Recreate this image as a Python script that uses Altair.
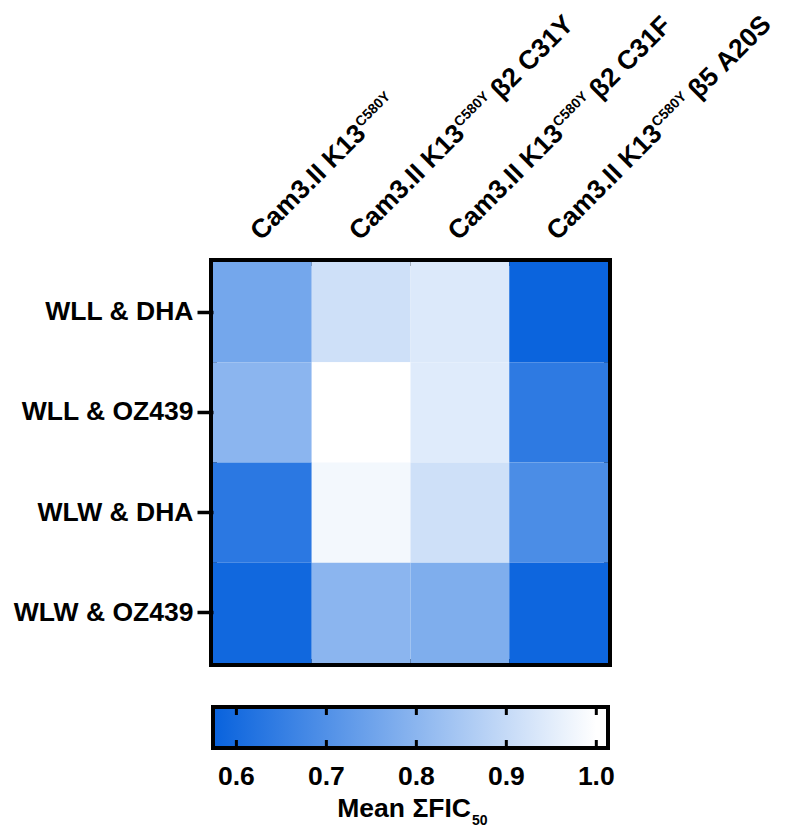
import altair as alt
import pandas as pd

FONT = "Liberation Sans"
FS = 26.5
SUP = 14
DARK = "#0862dd"

rows = ["WLL & DHA", "WLL & OZ439", "WLW & DHA", "WLW & OZ439"]
col_keys = ["K13", "K13 b2 C31Y", "K13 b2 C31F", "K13 b5 A20S"]
label_prefix = ["Cam3.II K13", "Cam3.II K13", "Cam3.II K13", "Cam3.II K13"]
label_sup = ["C580Y", "C580Y", "C580Y", "C580Y"]
label_suffix = ["", "β2 C31Y", "β2 C31F", "β5 A20S"]
values = [
    [0.76, 0.915, 0.94, 0.58],
    [0.80, 1.00, 0.945, 0.64],
    [0.635, 0.98, 0.915, 0.69],
    [0.59, 0.80, 0.78, 0.585],
]
bar_ticks = [0.6, 0.7, 0.8, 0.9, 1.0]
bar_tick_labels = ["0.6", "0.7", "0.8", "0.9", "1.0"]
bar_domain = [0.574, 1.013]
color_domain = [0.574, 1.0]
legend_title = "Mean ΣFIC"
legend_sub = "50"

PW, PH = 395, 401           # heatmap plot area
BAR_Y, BAR_H = 445, 41      # colour bar, relative to plot top

# Arial/Liberation Sans Bold advance widths (per em)
W = {" ": 0.278, ".": 0.278, "C": 0.722, "a": 0.556, "m": 0.889, "I": 0.278,
     "K": 0.722, "Y": 0.667}
for d in "0123456789":
    W[d] = 0.556


def width(s, size):
    return sum(W.get(ch, 0.6) for ch in s) * size


w1 = width(label_prefix[0], FS)
w2 = width(label_sup[0], SUP)

cells = pd.DataFrame([
    {"row": r, "col": c, "v": values[i][j]}
    for i, r in enumerate(rows) for j, c in enumerate(col_keys)
])
labels = pd.DataFrame({"col": col_keys, "prefix": label_prefix,
                       "sup": label_sup, "suffix": label_suffix})

# ---------------- heatmap ----------------
xenc = alt.X("col:N", sort=col_keys,
             scale=alt.Scale(paddingInner=0, paddingOuter=0),
             axis=alt.Axis(orient="top", labels=False, ticks=True, tickSize=13,
                           tickWidth=3, tickColor="black", domain=False,
                           title=None, grid=False))
heat = alt.Chart(cells).mark_rect().encode(
    x=xenc,
    y=alt.Y("row:N", sort=rows,
            scale=alt.Scale(paddingInner=0, paddingOuter=0),
            axis=alt.Axis(labelFont=FONT, labelFontSize=FS, labelFontWeight="bold",
                          labelColor="black", labelPadding=4, tickSize=16,
                          tickWidth=3.5, tickColor="black", domain=False,
                          title=None, grid=False)),
    color=alt.Color("v:Q", legend=None,
                    scale=alt.Scale(domain=color_domain, range=[DARK, "#ffffff"],
                                    interpolate="rgb", clamp=True)),
)

tbase = alt.Chart(labels).encode(
    x=alt.X("col:N", sort=col_keys, axis=None), y=alt.value(-22))
common = dict(angle=315, align="left", baseline="alphabetic", font=FONT,
              fontWeight="bold", color="black")
t1 = tbase.mark_text(fontSize=FS, dx=-2, **common).encode(text="prefix:N")
t2 = tbase.mark_text(fontSize=SUP, dx=w1 - 1, dy=-10, **common).encode(text="sup:N")
t3 = tbase.mark_text(fontSize=FS, dx=w1 + w2 + 5, **common).encode(text="suffix:N")

top = alt.layer(heat, t1, t2, t3)

# ---------------- colour bar ----------------
bar_df = pd.DataFrame({"lo": [bar_domain[0]], "hi": [bar_domain[1]]})
tick_df = pd.DataFrame({"t": bar_ticks, "lab": bar_tick_labels})
stop1 = (color_domain[1] - bar_domain[0]) / (bar_domain[1] - bar_domain[0])
grad = alt.LinearGradient(
    gradient="linear", x1=0, x2=1, y1=0, y2=0,
    stops=[alt.GradientStop(offset=0, color=DARK),
           alt.GradientStop(offset=stop1, color="#ffffff"),
           alt.GradientStop(offset=1, color="#ffffff")])

bx = alt.Scale(domain=bar_domain, nice=False, zero=False)
barrect = alt.Chart(bar_df).mark_rect(color=grad).encode(
    x=alt.X("lo:Q", scale=bx, axis=None), x2="hi:Q",
    y=alt.value(BAR_Y), y2=alt.value(BAR_Y + BAR_H))
barframe = alt.Chart(bar_df).mark_rect(fillOpacity=0, stroke="black", strokeWidth=4).encode(
    x=alt.X("lo:Q", scale=bx, axis=None), x2="hi:Q",
    y=alt.value(BAR_Y), y2=alt.value(BAR_Y + BAR_H))
tk_top = alt.Chart(tick_df).mark_rule(color="black", strokeWidth=3).encode(
    x=alt.X("t:Q", scale=bx, axis=None), y=alt.value(BAR_Y), y2=alt.value(BAR_Y + 8))
tk_bot = alt.Chart(tick_df).mark_rule(color="black", strokeWidth=3).encode(
    x=alt.X("t:Q", scale=bx, axis=None), y=alt.value(BAR_Y + BAR_H - 8),
    y2=alt.value(BAR_Y + BAR_H))
tk_lab = alt.Chart(tick_df).mark_text(align="center", baseline="alphabetic", font=FONT,
                                      fontSize=FS, fontWeight="bold", color="black").encode(
    x=alt.X("t:Q", scale=bx, axis=None), y=alt.value(BAR_Y + 78), text="lab:N")

title_df = pd.DataFrame({"main": [legend_title], "sub": [legend_sub]})
tt1 = alt.Chart(title_df).mark_text(align="right", baseline="alphabetic", font=FONT,
                                    fontSize=FS, fontWeight="bold", color="black").encode(
    text="main:N", x=alt.value(258), y=alt.value(BAR_Y + 110))
tt2 = alt.Chart(title_df).mark_text(align="left", baseline="alphabetic", font=FONT,
                                    fontSize=SUP, fontWeight="bold", color="black").encode(
    text="sub:N", x=alt.value(259), y=alt.value(BAR_Y + 118))

bottom = alt.layer(barrect, tk_top, tk_bot, barframe, tk_lab, tt1, tt2)

chart = alt.layer(top, bottom).resolve_scale(x="independent").properties(
    width=PW, height=PH,
    autosize=alt.AutoSizeParams(type="none"),
    padding={"left": 205, "top": 254, "right": 169, "bottom": 164},
    background="white",
).configure_view(stroke="black", strokeWidth=8)

chart.save("out.html", embed_options={"renderer": "svg", "actions": False})
